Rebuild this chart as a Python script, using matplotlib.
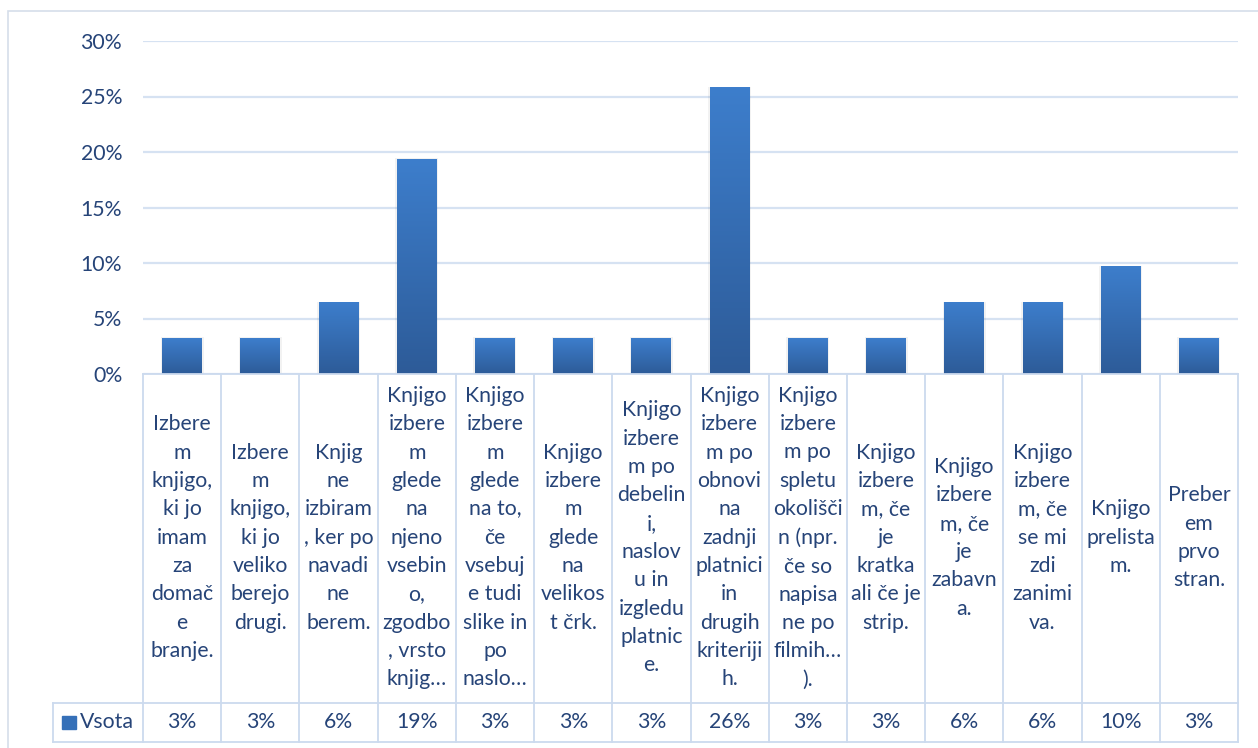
import numpy as np
import matplotlib
matplotlib.use("Agg")
import matplotlib.pyplot as plt
from matplotlib.colors import LinearSegmentedColormap
from matplotlib.patches import Rectangle
from matplotlib.ticker import PercentFormatter

# data (31 answers, shares in %)
categories = [
    "Izbere\nm\nknjigo,\nki jo\nimam\nza\ndomač\ne\nbranje.",
    "Izbere\nm\nknjigo,\nki jo\nveliko\nberejo\ndrugi.",
    "Knjig\nne\nizbiram\n, ker po\nnavadi\nne\nberem.",
    "Knjigo\nizbere\nm\nglede\nna\nnjeno\nvsebin\no,\nzgodbo\n, vrsto\nknjig…",
    "Knjigo\nizbere\nm\nglede\nna to,\nče\nvsebuj\ne tudi\nslike in\npo\nnaslo…",
    "Knjigo\nizbere\nm\nglede\nna\nvelikos\nt črk.",
    "Knjigo\nizbere\nm po\ndebelin\ni,\nnaslov\nu in\nizgledu\nplatnic\ne.",
    "Knjigo\nizbere\nm po\nobnovi\nna\nzadnji\nplatnici\nin\ndrugih\nkriteriji\nh.",
    "Knjigo\nizbere\nm po\nspletu\nokolišči\nn (npr.\nče so\nnapisa\nne po\nfilmih…\n).",
    "Knjigo\nizbere\nm, če\nje\nkratka\nali če je\nstrip.",
    "Knjigo\nizbere\nm, če\nje\nzabavn\na.",
    "Knjigo\nizbere\nm, če\nse mi\nzdi\nzanimi\nva.",
    "Knjigo\nprelista\nm.",
    "Preber\nem\nprvo\nstran.",
]
values = [3.23, 3.23, 6.45, 19.35, 3.23, 3.23, 3.23, 25.81, 3.23, 3.23, 6.45, 6.45, 9.68, 3.23]
series_name = "Vsota"
yticks = [0, 5, 10, 15, 20, 25, 30]

TXT = "#264478"
GRID = "#D6E2F2"
BORDER = "#CCDAEE"
FONT = "Lato"
FS = 15.3

W, H = 1258, 748
fig = plt.figure(figsize=(W / 100, H / 100), dpi=100)
fig.patch.set_facecolor("white")

# outer chart border
fig.add_artist(Rectangle((8 / W, -0.01), 1.1, 1 - 11 / H + 0.01, transform=fig.transFigure,
                         fill=False, edgecolor="#D5DEEA", lw=1.2))

ax = fig.add_axes([143 / W, 1 - 374 / H, (1238 - 143) / W, (374 - 41) / H])
x = np.arange(len(values))
bars = ax.bar(x, values, width=0.51, color="#3570B8", zorder=3)

cmap = LinearSegmentedColormap.from_list("bar", ["#2D5B98", "#3D7ECC"])
grad = np.linspace(0, 1, 256).reshape(-1, 1)
for b in bars:
    # faint shadow
    ax.add_patch(Rectangle((b.get_x() - 0.02, 0), b.get_width() + 0.04, b.get_height() + 0.08,
                           color="#000000", alpha=0.05, lw=0, zorder=2.5))
    ax.imshow(grad, extent=[b.get_x(), b.get_x() + b.get_width(), 0, b.get_height()],
              origin="lower", aspect="auto", cmap=cmap, zorder=3.1)

ax.set_xlim(-0.5, len(values) - 0.5)
ax.set_ylim(0, 30)
ax.set_yticks(yticks)
ax.yaxis.set_major_formatter(PercentFormatter(decimals=0))
ax.set_xticks([])
ax.yaxis.grid(True, color=GRID, lw=1.6, zorder=0)
ax.set_axisbelow(True)
for s in ax.spines.values():
    s.set_visible(False)
ax.tick_params(axis="y", length=0, pad=15, labelsize=FS, labelcolor=TXT)
for lab in ax.get_yticklabels():
    lab.set_fontfamily(FONT)

# data table below the plot
tax = fig.add_axes([143 / W, 1 - 742 / H, (1238 - 143) / W, (742 - 374) / H])
tax.set_xlim(-0.5, len(values) - 0.5)
tax.set_ylim(0, 1)
tax.axis("off")
split = (742 - 703) / (742 - 374)
left = (53 - 143) / ((1238 - 143) / len(values)) - 0.5
n = len(values)
lk = dict(color=BORDER, lw=1.3, clip_on=False)
tax.plot([-0.5, n - 0.5], [1, 1], **lk)
tax.plot([left, n - 0.5], [split, split], **lk)
tax.plot([left, n - 0.5], [0, 0], **lk)
tax.plot([left, left], [0, split], **lk)
for i in range(n + 1):
    tax.plot([i - 0.5, i - 0.5], [0, 1], **lk)

for i, (c, v) in enumerate(zip(categories, values)):
    tax.text(i, (1 + split) / 2 + 0.002, c, ha="center", va="center", fontsize=FS,
             color=TXT, family=FONT, linespacing=1.52)
    tax.text(i, split / 2, f"{v:.0f}%", ha="center", va="center", fontsize=FS,
             color=TXT, family=FONT)

tax.add_patch(Rectangle((left + 0.115, split / 2 - 0.019), 0.18, 0.038, color="#3570B8", clip_on=False))
tax.text(left + 0.34, split / 2, series_name, ha="left", va="center", fontsize=FS,
         color=TXT, family=FONT)

fig.savefig("out.png", dpi=100)
